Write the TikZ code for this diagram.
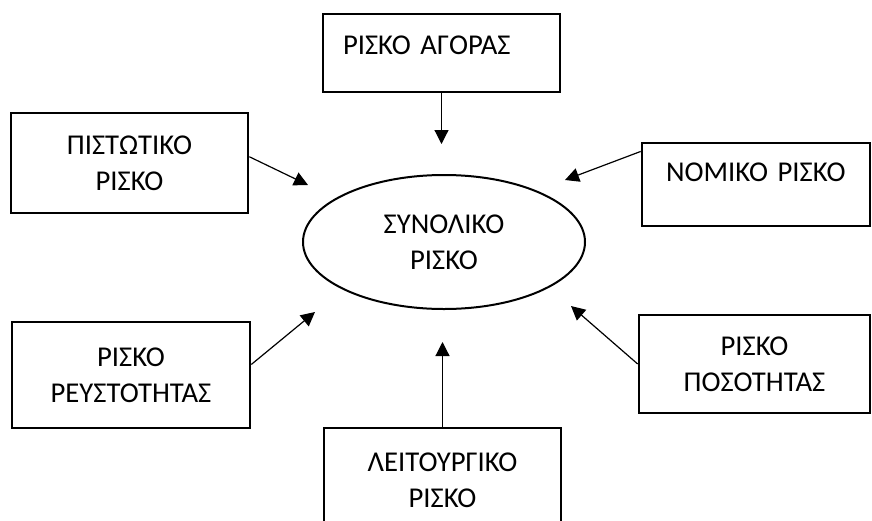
\documentclass[tikz,border=0pt]{standalone}
\usepackage{fontspec}
\setmainfont{Carlito}
\usetikzlibrary{arrows.meta,shapes.geometric}

\begin{document}
\begin{tikzpicture}[
    x=0.5pt, y=-0.5pt,
    font=\fontsize{14.35}{18}\selectfont,
    box/.style={rectangle, draw, line width=1.3pt, align=center},
    leftbox/.style={rectangle, draw, line width=1.3pt, align=left},
    oval/.style={ellipse, draw, line width=1pt, minimum width=141pt,
        minimum height=67pt, align=center},
    arrow/.style={-{Triangle[length=7pt,width=7pt]}, line width=0.6pt}
]
    \useasboundingbox (0,0) rectangle (872,520);

    \node[oval] (total) at (444,242) {ΣΥΝΟΛΙΚΟ\\ΡΙΣΚΟ};

    \node[leftbox, minimum width=118.5pt, minimum height=39pt, text width=98.5pt,
        inner xsep=10pt, text depth=8pt] (agora) at (441.5,53) {ΡΙΣΚΟ ΑΓΟΡΑΣ};
    \node[box, minimum width=118.5pt, minimum height=50pt] (credit) at (129.5,163) {ΠΙΣΤΩΤΙΚΟ\\ΡΙΣΚΟ};
    \node[leftbox, minimum width=114pt, minimum height=41.5pt, text width=90pt,
        inner xsep=12pt, text depth=12.5pt] (legal) at (756,184.5) {ΝΟΜΙΚΟ ΡΙΣΚΟ};
    \node[box, minimum width=119pt, minimum height=53pt] (liquid) at (131,375) {ΡΙΣΚΟ\\ΡΕΥΣΤΟΤΗΤΑΣ};
    \node[box, minimum width=115.5pt, minimum height=49pt] (quantity) at (754.5,364) {ΡΙΣΚΟ\\ΠΟΣΟΤΗΤΑΣ};
    \node[box, minimum width=118.5pt, minimum height=52pt] (oper) at (442.5,480) {ΛΕΙΤΟΥΡΓΙΚΟ\\ΡΙΣΚΟ};

    % arrow tips stop short of the ellipse
    \coordinate (agora-tip) at (441.5,144);
    \coordinate (credit-tip) at (308,185);
    \coordinate (legal-tip) at (565,180);
    \coordinate (liquid-tip) at (315,312);
    \coordinate (quantity-tip) at (571,306);
    \coordinate (oper-tip) at (442.5,342);

    \draw[arrow] (agora) -- (agora-tip);
    \draw[arrow] (credit.3) -- (credit-tip);
    \draw[arrow] (legal.164) -- (legal-tip);
    \draw[arrow] (liquid.5) -- (liquid-tip);
    \draw[arrow] (quantity.west) -- (quantity-tip);
    \draw[arrow] (oper) -- (oper-tip);
\end{tikzpicture}
\end{document}
